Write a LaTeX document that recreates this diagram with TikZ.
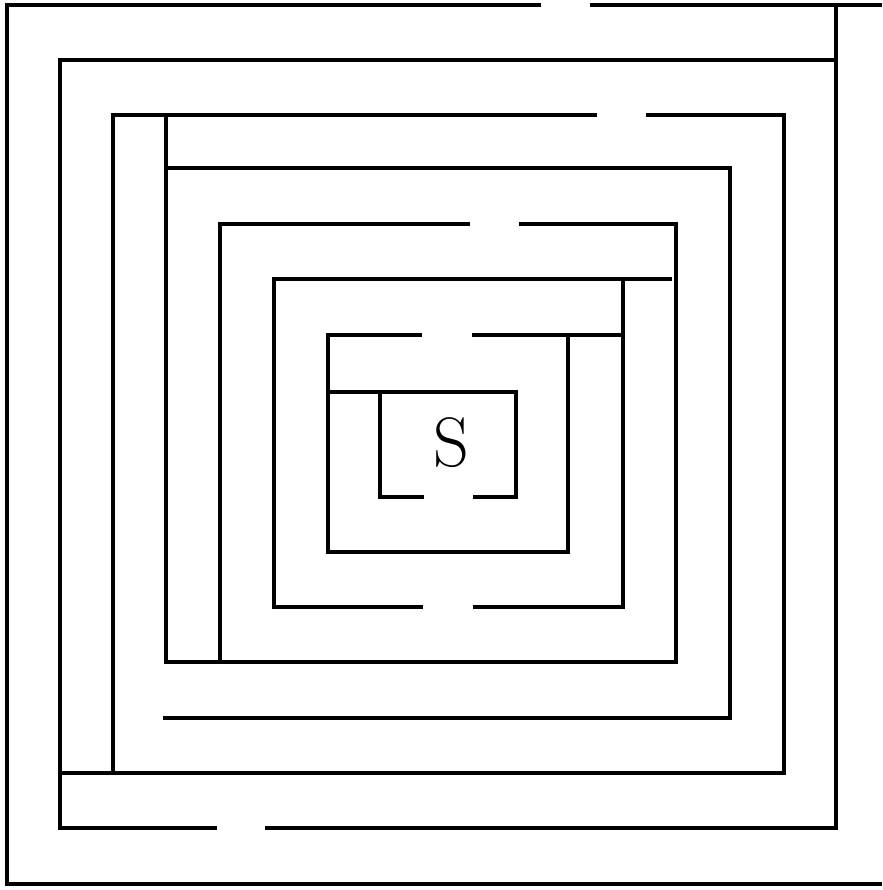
\documentclass[tikz,border=0pt]{standalone}
\usepackage{amsmath}
\usepackage{tikz}

\begin{document}
\begin{tikzpicture}[x=1pt,y=-1pt,wall/.style={line width=3.2pt,line join=miter}]
        \useasboundingbox (0,0) rectangle (882,890);
        % outer walls
        \draw[wall] (541,5) -- (7,5) -- (7,884) -- (882,884);
        \draw[wall] (590,5) -- (882,5);
        \draw[wall] (836,5) -- (836,828) -- (265,828);
        \draw[wall] (217,828) -- (60,828) -- (60,60) -- (836,60);
        \draw[wall] (60,773) -- (784,773) -- (784,115) -- (646,115);
        \draw[wall] (597,115) -- (113,115) -- (113,773);
        \draw[wall] (166,115) -- (166,662) -- (676,662) -- (676,224) -- (519,224);
        \draw[wall] (166,168) -- (730,168) -- (730,718) -- (163,718);
        \draw[wall] (470,224) -- (220,224) -- (220,662);
        \draw[wall] (672,279) -- (274,279) -- (274,607) -- (423,607);
        \draw[wall] (473,607) -- (623,607) -- (623,279);
        % inner walls
        \draw[wall] (422,335) -- (328,335) -- (328,552) -- (568,552) -- (568,335);
        \draw[wall] (472,335) -- (623,335);
        \draw[wall] (328,392) -- (516,392) -- (516,497) -- (473,497);
        \draw[wall] (424,497) -- (380,497) -- (380,392);
        \node (start) at (451,443) {\fontsize{70}{70}\selectfont S};
    \end{tikzpicture}
\end{document}
